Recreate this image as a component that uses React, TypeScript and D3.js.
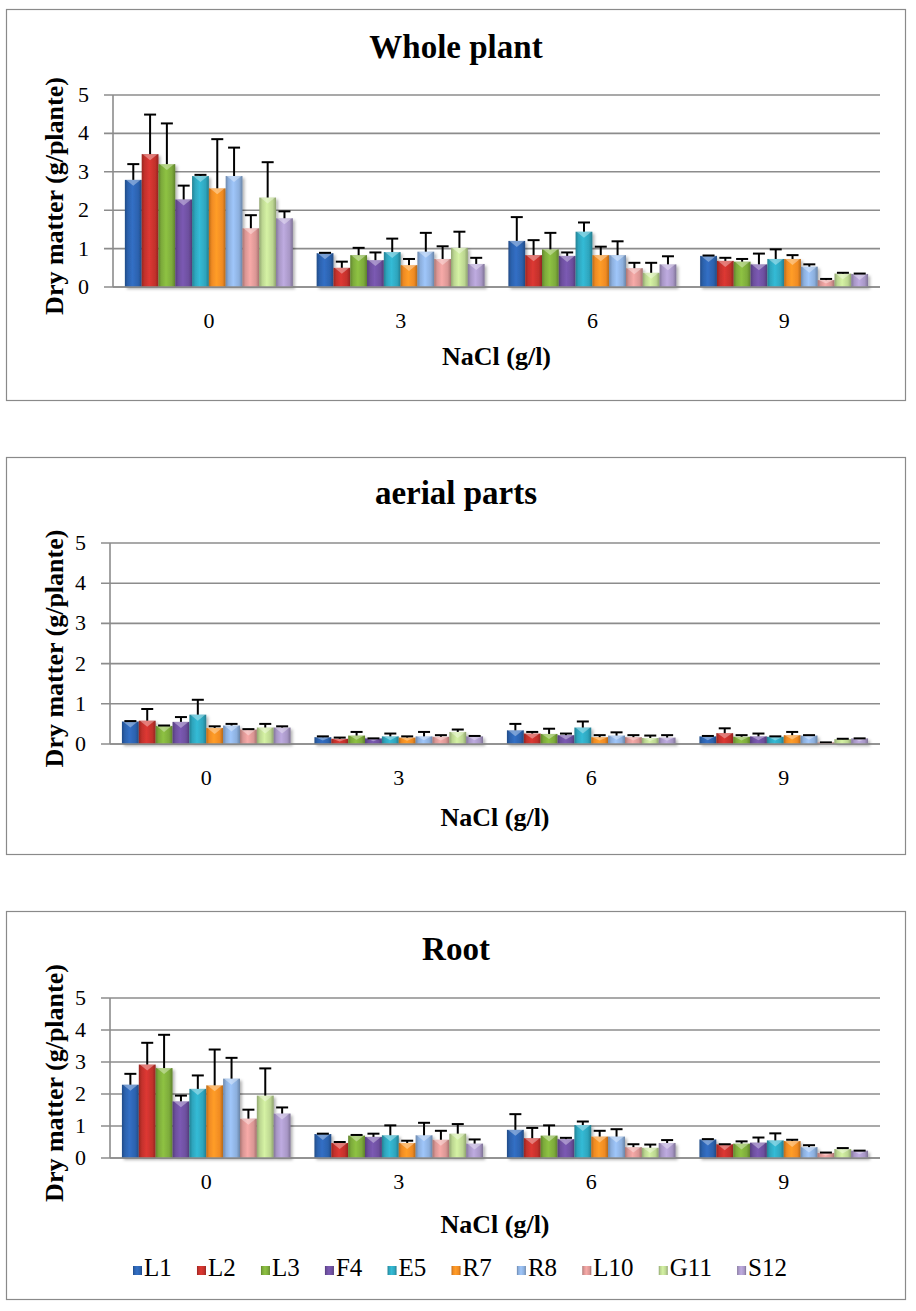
import * as d3 from 'd3';
import React, { useEffect, useRef } from 'react';

// NaCl levels (g/l) and lines
const nacl = ['0', '3', '6', '9'];
const lines = ['L1', 'L2', 'L3', 'F4', 'E5', 'R7', 'R8', 'L10', 'G11', 'S12'];
const colors = ['#2c62ae', '#c3312c', '#7dab3b', '#6d4f9e', '#2ea5bd', '#f08b23', '#8cafdd', '#da9694', '#bcd691', '#a897c6'];
const yTicks = [0, 1, 2, 3, 4, 5];

// Whole plant: mean per line (rows) and NaCl level (cols), with SD
const wholeMean = [
  [2.79, 0.88, 1.2, 0.81],
  [3.46, 0.5, 0.83, 0.68],
  [3.2, 0.83, 0.98, 0.66],
  [2.28, 0.7, 0.81, 0.59],
  [2.89, 0.91, 1.44, 0.73],
  [2.57, 0.57, 0.83, 0.73],
  [2.89, 0.92, 0.83, 0.53],
  [1.53, 0.73, 0.49, 0.18],
  [2.33, 1.02, 0.37, 0.35],
  [1.79, 0.6, 0.59, 0.34],
];
const wholeSd = [
  [0.41, 0.01, 0.62, 0.01],
  [1.03, 0.16, 0.39, 0.08],
  [1.06, 0.19, 0.43, 0.07],
  [0.36, 0.2, 0.09, 0.28],
  [0.03, 0.35, 0.24, 0.25],
  [1.28, 0.16, 0.22, 0.1],
  [0.74, 0.49, 0.36, 0.06],
  [0.34, 0.33, 0.14, 0.03],
  [0.92, 0.42, 0.26, 0.02],
  [0.18, 0.16, 0.21, 0.01],
];

// Aerial parts
const aerialMean = [
  [0.56, 0.17, 0.34, 0.19],
  [0.58, 0.13, 0.26, 0.27],
  [0.45, 0.21, 0.25, 0.18],
  [0.55, 0.14, 0.22, 0.19],
  [0.73, 0.19, 0.41, 0.18],
  [0.4, 0.16, 0.17, 0.22],
  [0.46, 0.19, 0.21, 0.21],
  [0.36, 0.18, 0.17, 0.04],
  [0.41, 0.3, 0.15, 0.12],
  [0.41, 0.19, 0.16, 0.14],
];
const aerialSd = [
  [0.01, 0.02, 0.16, 0.01],
  [0.29, 0.03, 0.04, 0.12],
  [0.01, 0.09, 0.13, 0.04],
  [0.12, 0.0, 0.04, 0.07],
  [0.37, 0.07, 0.15, 0.01],
  [0.04, 0.03, 0.05, 0.08],
  [0.04, 0.11, 0.08, 0.01],
  [0.01, 0.04, 0.05, 0.0],
  [0.09, 0.06, 0.06, 0.01],
  [0.03, 0.01, 0.06, 0.0],
];

// Root
const rootMean = [
  [2.29, 0.75, 0.88, 0.58],
  [2.92, 0.47, 0.62, 0.43],
  [2.81, 0.7, 0.7, 0.45],
  [1.77, 0.66, 0.59, 0.48],
  [2.16, 0.71, 1.03, 0.55],
  [2.27, 0.47, 0.67, 0.53],
  [2.48, 0.71, 0.67, 0.34],
  [1.23, 0.57, 0.34, 0.16],
  [1.95, 0.76, 0.32, 0.28],
  [1.39, 0.45, 0.47, 0.23],
];
const rootSd = [
  [0.34, 0.01, 0.49, 0.01],
  [0.68, 0.03, 0.32, 0.0],
  [1.04, 0.02, 0.32, 0.07],
  [0.18, 0.1, 0.04, 0.16],
  [0.42, 0.31, 0.11, 0.22],
  [1.12, 0.07, 0.18, 0.04],
  [0.65, 0.39, 0.23, 0.06],
  [0.28, 0.28, 0.09, 0.01],
  [0.85, 0.3, 0.1, 0.03],
  [0.19, 0.13, 0.09, 0.0],
];

const W = 916;
const H = 1311;
const FONT = 'Liberation Serif, DejaVu Serif, serif';

const panels = [
  { title: 'Whole plant', mean: wholeMean, sd: wholeSd, top: 9, bottom: 400, plotTop: 95, plotBottom: 287, left: 113, titleY: 58, tickY: 328, xTitleY: 365, legend: false },
  { title: 'aerial parts', mean: aerialMean, sd: aerialSd, top: 457, bottom: 854, plotTop: 543, plotBottom: 744, left: 110, titleY: 504, tickY: 785, xTitleY: 826, legend: false },
  { title: 'Root', mean: rootMean, sd: rootSd, top: 911, bottom: 1299, plotTop: 998, plotBottom: 1158, left: 110, titleY: 960, tickY: 1189, xTitleY: 1233, legend: true },
];

const App: React.FC = () => {
  const svgRef = useRef<SVGSVGElement>(null);

  useEffect(() => {
    const svg = d3.select(svgRef.current);
    svg.selectAll('*').remove();

    const defs = svg.append('defs');
    colors.forEach((c, i) => {
      const g = defs.append('linearGradient').attr('id', `bar${i}`).attr('x1', 0).attr('x2', 1).attr('y1', 0).attr('y2', 0);
      const base = d3.color(c)!;
      g.append('stop').attr('offset', '0%').attr('stop-color', base.darker(0.7).toString());
      g.append('stop').attr('offset', '18%').attr('stop-color', c);
      g.append('stop').attr('offset', '45%').attr('stop-color', base.brighter(0.35).toString());
      g.append('stop').attr('offset', '80%').attr('stop-color', c);
      g.append('stop').attr('offset', '100%').attr('stop-color', base.darker(0.8).toString());
    });
    const shadow = defs.append('filter').attr('id', 'shadow').attr('x', '-20%').attr('y', '-20%').attr('width', '140%').attr('height', '140%');
    shadow.append('feDropShadow').attr('dx', 2).attr('dy', 2).attr('stdDeviation', 1.5).attr('flood-color', '#000').attr('flood-opacity', 0.3);

    svg.append('rect').attr('width', W).attr('height', H).attr('fill', '#fff');

    const right = 880;

    panels.forEach((p) => {
      const g = svg.append('g').style('font-family', FONT);

      // panel frame
      g.append('rect')
        .attr('x', 6.5)
        .attr('y', p.top + 0.5)
        .attr('width', 899)
        .attr('height', p.bottom - p.top)
        .attr('fill', '#fff')
        .attr('stroke', '#8a8a8a')
        .attr('stroke-width', 1.2);

      const x = d3.scaleBand().domain(nacl).range([p.left, right]).paddingInner(0.124).paddingOuter(0.062);
      const xs = d3.scaleBand().domain(lines).range([0, x.bandwidth()]);
      const y = d3.scaleLinear().domain([0, 5]).range([p.plotBottom, p.plotTop]);

      // gridlines + ticks
      g.append('g')
        .selectAll('line')
        .data(yTicks)
        .enter()
        .append('line')
        .attr('x1', p.left - 9)
        .attr('x2', right)
        .attr('y1', (d) => y(d))
        .attr('y2', (d) => y(d))
        .attr('stroke', '#8c8c8c')
        .attr('stroke-width', 1.6);

      g.append('line')
        .attr('x1', p.left)
        .attr('x2', p.left)
        .attr('y1', p.plotTop)
        .attr('y2', p.plotBottom)
        .attr('stroke', '#8c8c8c')
        .attr('stroke-width', 1.6);

      g.append('g')
        .selectAll('text')
        .data(yTicks)
        .enter()
        .append('text')
        .attr('x', p.left - 24)
        .attr('y', (d) => y(d) + 7)
        .attr('text-anchor', 'end')
        .style('font-size', '22px')
        .text((d) => d);

      // bars
      const bars = g.append('g').attr('filter', 'url(#shadow)');
      nacl.forEach((n, j) => {
        lines.forEach((l, i) => {
          const v = p.mean[i][j];
          const bx = x(n)! + xs(l)!;
          const bw = xs.bandwidth();
          bars
            .append('rect')
            .attr('x', bx)
            .attr('y', y(v))
            .attr('width', bw)
            .attr('height', y(0) - y(v))
            .attr('fill', `url(#bar${i})`);
          // bevel highlight at the top
          if (y(0) - y(v) > 5) {
            const cx = bx + bw / 2;
            bars
              .append('path')
              .attr('d', `M${bx + 1},${y(v)}L${bx + bw - 1},${y(v)}L${cx},${y(v) + Math.min(6, (y(0) - y(v)) / 2)}Z`)
              .attr('fill', '#fff')
              .attr('opacity', 0.35);
          }
        });
      });

      // error bars
      const err = g.append('g').attr('stroke', '#000').attr('stroke-width', 2);
      nacl.forEach((n, j) => {
        lines.forEach((l, i) => {
          const v = p.mean[i][j];
          const s = p.sd[i][j];
          const cx = x(n)! + xs(l)! + xs.bandwidth() / 2;
          err.append('line').attr('x1', cx).attr('x2', cx).attr('y1', y(v)).attr('y2', y(v + s));
          err.append('line').attr('x1', cx - 6).attr('x2', cx + 6).attr('y1', y(v + s)).attr('y2', y(v + s));
        });
      });

      // baseline on top of bars
      g.append('line')
        .attr('x1', p.left)
        .attr('x2', right)
        .attr('y1', y(0))
        .attr('y2', y(0))
        .attr('stroke', '#8c8c8c')
        .attr('stroke-width', 1.6);

      // category labels
      g.append('g')
        .selectAll('text')
        .data(nacl)
        .enter()
        .append('text')
        .attr('x', (d) => x(d)! + x.bandwidth() / 2)
        .attr('y', p.tickY)
        .attr('text-anchor', 'middle')
        .style('font-size', '22px')
        .text((d) => d);

      // titles
      g.append('text')
        .attr('x', 456)
        .attr('y', p.titleY)
        .attr('text-anchor', 'middle')
        .style('font-weight', 'bold')
        .style('font-size', '33px')
        .text(p.title);

      g.append('text')
        .attr('x', (p.left + right) / 2)
        .attr('y', p.xTitleY)
        .attr('text-anchor', 'middle')
        .style('font-weight', 'bold')
        .style('font-size', '26px')
        .text('NaCl (g/l)');

      g.append('text')
        .attr('transform', `translate(63,${(p.plotTop + p.plotBottom) / 2 + 5}) rotate(-90)`)
        .attr('text-anchor', 'middle')
        .style('font-weight', 'bold')
        .style('font-size', '26px')
        .text('Dry matter (g/plante)');

      if (p.legend) {
        const lg = g.append('g');
        const items = lines.map((l, i) => {
          const it = lg.append('g');
          it.append('rect').attr('x', 0).attr('y', -10).attr('width', 9).attr('height', 9).attr('fill', `url(#bar${i})`);
          const t = it.append('text').attr('x', 11).attr('y', 0).style('font-size', '25px').text(l);
          const w = (t.node() as SVGTextElement).getComputedTextLength();
          return { it, w: 11 + w };
        });
        // spread items over the legend width
        const start = 133;
        const end = 787;
        const gap = (end - start - d3.sum(items, (d) => d.w)) / (items.length - 1);
        let cx = start;
        items.forEach((d) => {
          d.it.attr('transform', `translate(${cx},1276)`);
          cx += d.w + gap;
        });
      }
    });
  }, []);

  return <svg ref={svgRef} width={W} height={H} style={{ position: 'absolute', left: 0, top: 0 }} />;
};

export default App;
